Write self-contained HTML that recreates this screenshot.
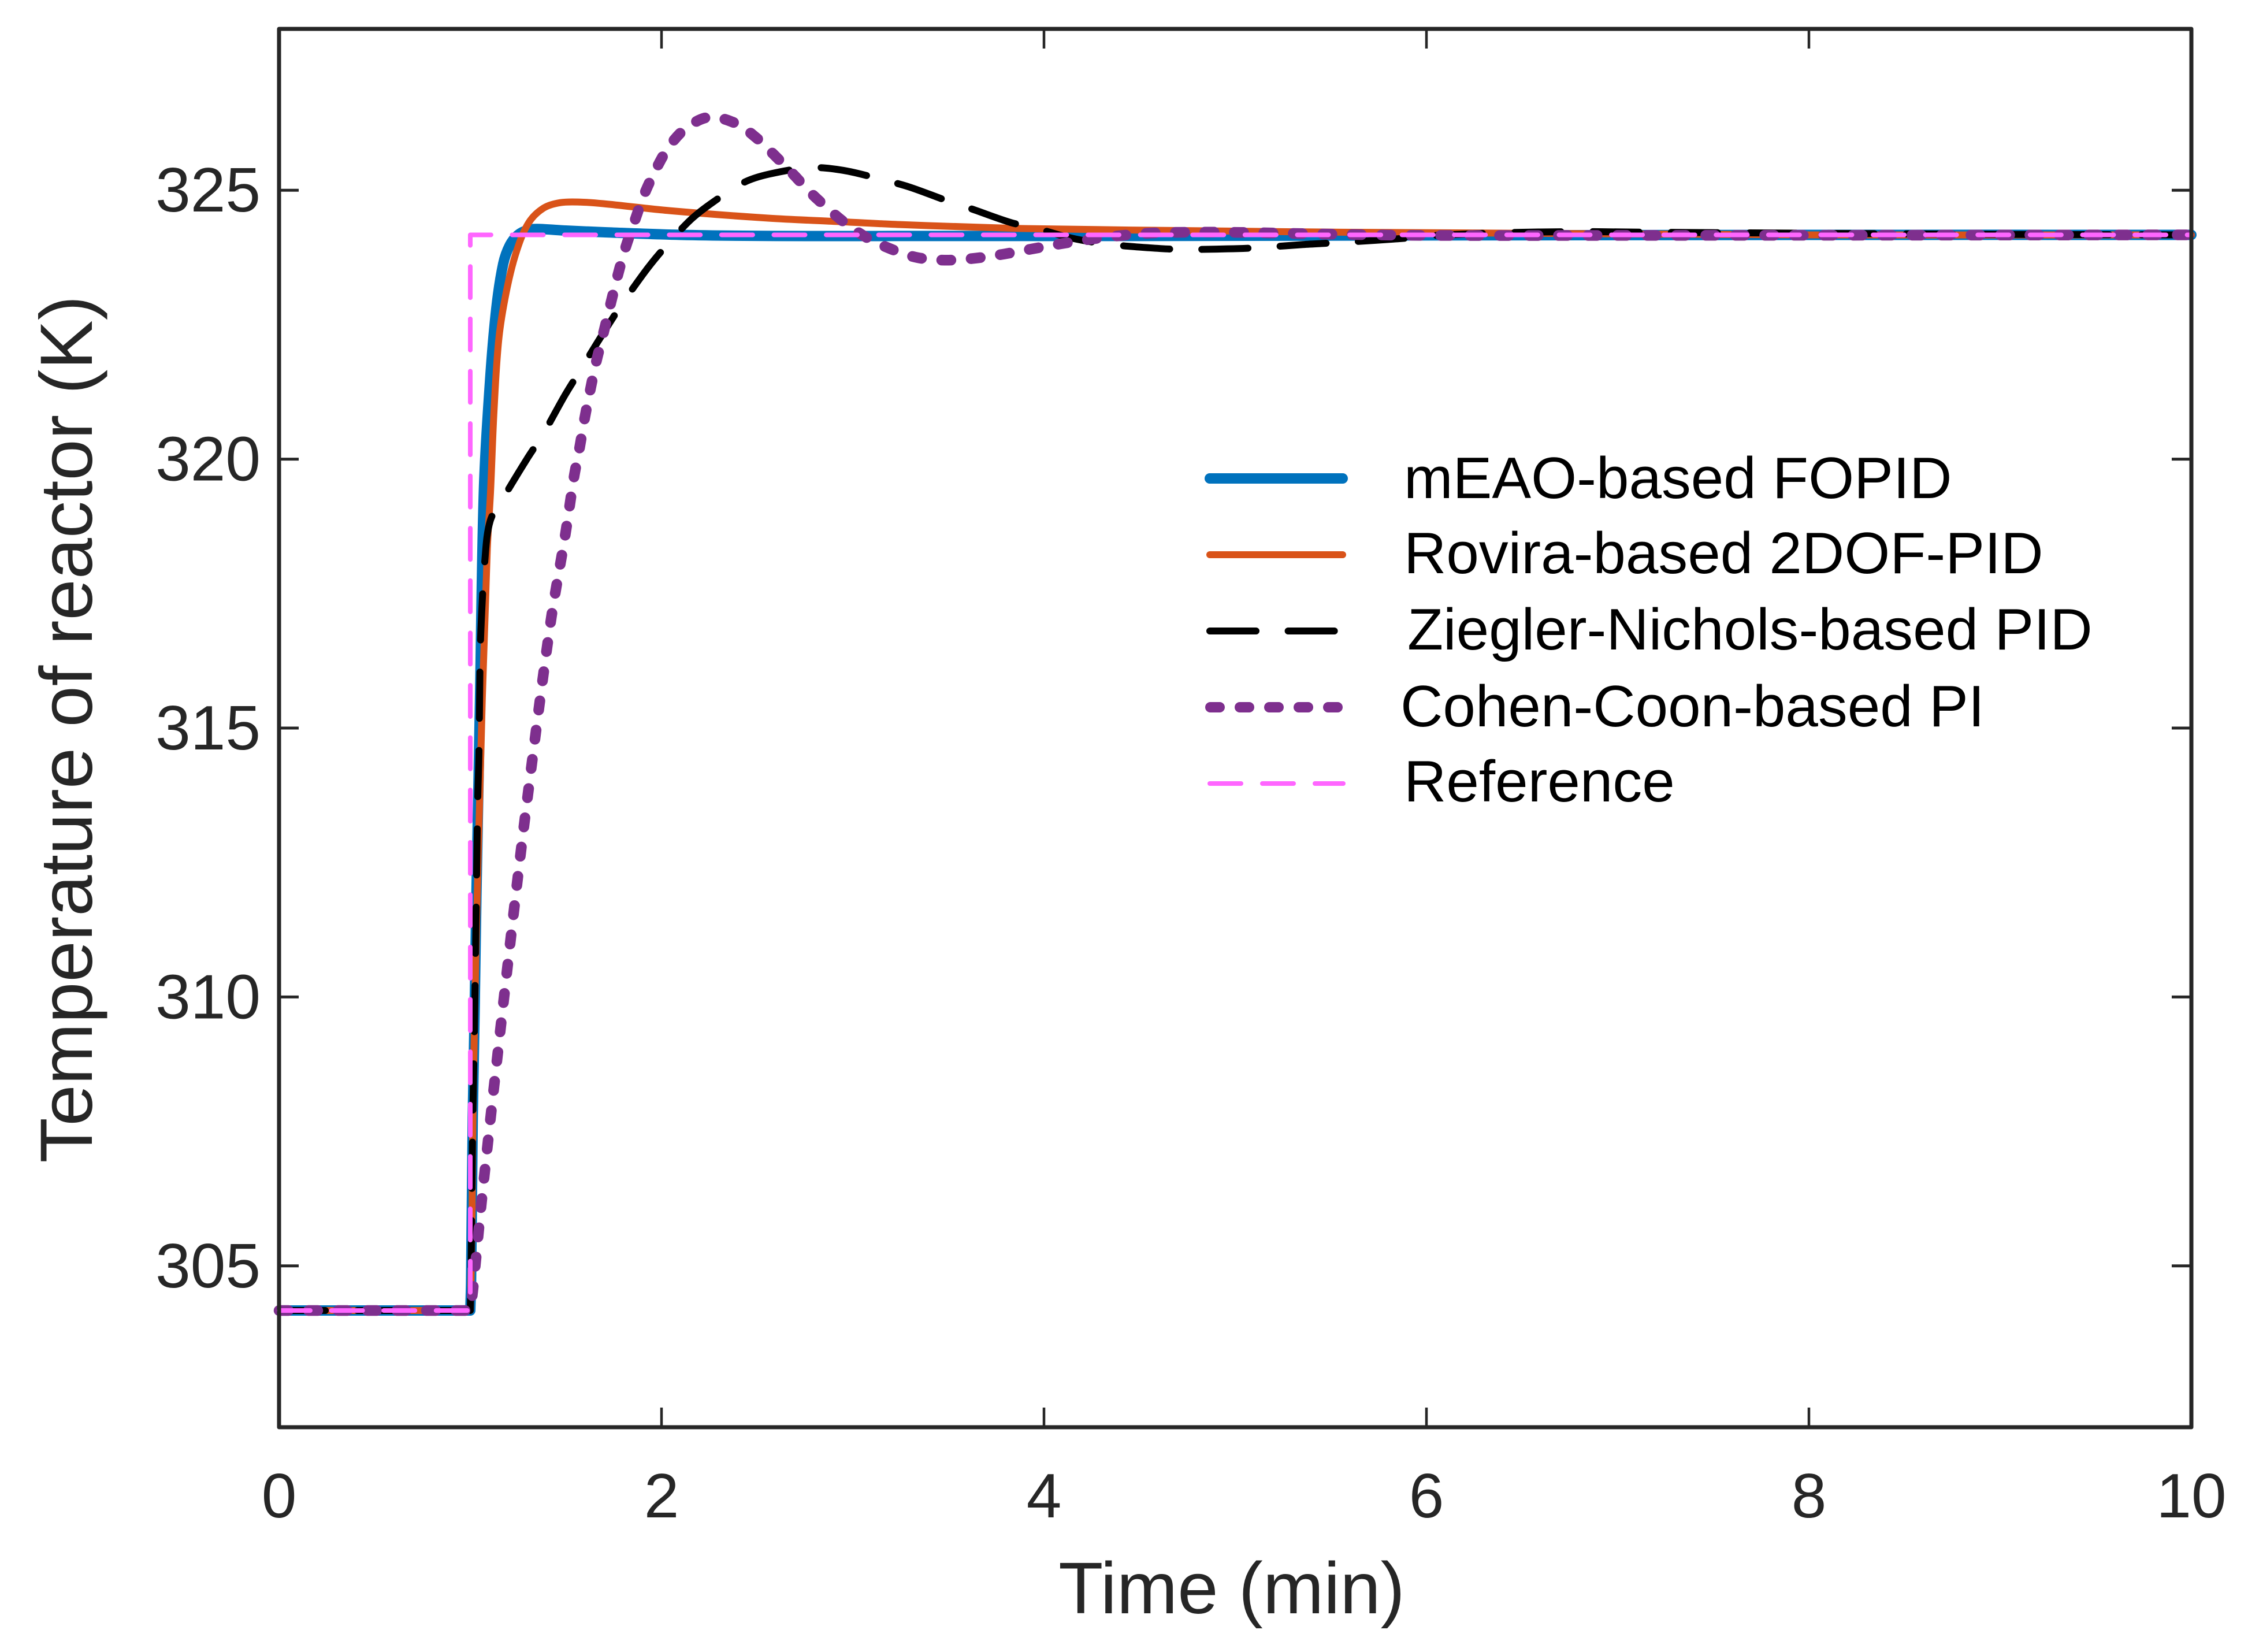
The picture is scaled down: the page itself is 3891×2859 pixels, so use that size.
<!DOCTYPE html>
<html lang="en">
<head>
<meta charset="utf-8">
<title>Temperature of reactor step response</title>
<style>
html,body{margin:0;padding:0;background:#fff;}
svg{display:block;}
text{font-family:"Liberation Sans",Arial,sans-serif;}
</style>
</head>
<body>
<svg id="chart" xmlns="http://www.w3.org/2000/svg" width="3891" height="2859" viewBox="0 0 3891 2859">
  <rect x="0" y="0" width="3891" height="2859" fill="#fff"/>
  <g id="ticks"></g>
  <g id="series"></g>
  <rect x="483" y="50" width="3310" height="2420" fill="none" stroke="#262626" stroke-width="7" stroke-linejoin="round"/>
  <g id="tick-labels" fill="#262626" font-size="109"></g>
  <text x="2132" y="2792" font-size="126.5" text-anchor="middle" fill="#262626">Time (min)</text>
  <text transform="translate(159,1262) rotate(-90)" font-size="128" text-anchor="middle" fill="#262626">Temperature of reactor (K)</text>
  <g>
    <g>
      <line x1="2094" x2="2324" y1="828" y2="828" stroke="#0072BD" stroke-width="18" stroke-linecap="round"/>
      <text x="2430" y="862" font-size="101.6" fill="#000">mEAO-based FOPID</text>
    </g>
    <g>
      <line x1="2094" x2="2324" y1="960" y2="960" stroke="#D95319" stroke-width="12" stroke-linecap="round"/>
      <text x="2430" y="992" font-size="101.6" fill="#000">Rovira-based 2DOF-PID</text>
    </g>
    <g>
      <line x1="2094" x2="2312" y1="1092" y2="1092" stroke="#000" stroke-width="12" stroke-linecap="round" stroke-dasharray="80 55.6"/>
      <text x="2436" y="1124" font-size="101.6" fill="#000">Ziegler-Nichols-based PID</text>
    </g>
    <g>
      <line x1="2095" x2="2316" y1="1224" y2="1224" stroke="#7E2F8E" stroke-width="18" stroke-linecap="round" stroke-dasharray="16 35"/>
      <text x="2424" y="1257" font-size="101.6" fill="#000">Cohen-Coon-based PI</text>
    </g>
    <g>
      <line x1="2094" x2="2325" y1="1356" y2="1356" stroke="#FF66FF" stroke-width="8" stroke-linecap="round" stroke-dasharray="54 37"/>
      <text x="2430" y="1387" font-size="101.6" fill="#000">Reference</text>
    </g>
  </g>
</svg>
<script>
var xTickValues = [0, 2, 4, 6, 8, 10];
var yTickValues = [305, 310, 315, 320, 325];

var meaoTime = [0,1,1.004,1.013,1.023,1.032,1.051,1.071,1.103,1.136,1.172,1.207,1.25,1.30,1.349,1.5,1.696,2.1,2.6,3.5,4.5,6,8,10];
var meaoTemp = [304.17,304.17,304.68,307.77,309.8,311.88,315.56,319.4,321.44,322.8,323.63,323.98,324.17,324.26,324.28,324.25,324.22,324.17,324.15,324.15,324.15,324.16,324.17,324.17];

var roviraTime = [0,1,1.004,1.01,1.013,1.021,1.033,1.063,1.089,1.106,1.124,1.15,1.193,1.245,1.306,1.384,1.471,1.575,1.696,2.043,2.563,2.91,3.257,3.87,4.45,5.55,6.5,8,10];
var roviraTemp = [304.17,304.17,304.68,306.2,307.51,309.31,311.37,315.56,318.33,319.4,320.89,322.26,323.19,323.9,324.4,324.67,324.77,324.78,324.75,324.62,324.48,324.42,324.36,324.29,324.26,324.22,324.2,324.17,324.17];

var zieglerTime = [0,1,1.004,1.012,1.021,1.033,1.039,1.045,1.05,1.053,1.063,1.074,1.104,1.181,1.301,1.38,1.495,1.575,1.67,1.774,1.904,1.996,2.143,2.254,2.428,2.563,2.78,2.95,3.152,3.296,3.489,3.624,3.826,3.961,4.144,4.327,4.549,4.718,4.959,5.113,5.354,5.508,5.739,5.93,6.05,6.4,6.8,7.13,8,9,10];
var zieglerTemp = [304.17,304.17,304.9,307.5,309.3,312.23,313.67,314.48,315.95,316.57,317.39,318.03,318.85,319.33,320.03,320.46,321.19,321.65,322.2,322.78,323.44,323.85,324.42,324.74,325.14,325.3,325.42,325.37,325.2,325.06,324.81,324.65,324.4,324.29,324.11,324.0,323.93,323.9,323.91,323.93,323.99,324.02,324.07,324.12,324.16,324.21,324.23,324.22,324.2,324.18,324.17];

var cohenTime = [0,1,1.013,1.028,1.058,1.124,1.245,1.32,1.421,1.497,1.543,1.571,1.597,1.627,1.658,1.696,1.731,1.769,1.809,1.857,1.907,1.968,2.039,2.13,2.251,2.39,2.494,2.591,2.688,2.778,2.879,2.979,3.083,3.205,3.335,3.479,3.624,3.768,3.909,4.048,4.187,4.331,4.472,4.6,4.93,5.55,6,7,10];
var cohenTemp = [304.17,304.17,304.53,305.07,306.16,308.33,312.12,314.29,316.99,318.6,319.68,320.2,320.74,321.28,321.8,322.34,322.85,323.39,323.9,324.4,324.9,325.37,325.81,326.16,326.36,326.24,325.98,325.65,325.3,324.96,324.63,324.34,324.1,323.9,323.75,323.7,323.73,323.8,323.89,323.98,324.06,324.13,324.18,324.21,324.22,324.18,324.16,324.16,324.17];

var referenceTime = [0, 1, 1, 10];
var referenceTemp = [304.17, 304.17, 324.17, 324.17];

function xScale(t) { return 483 + (t - 0) / (10 - 0) * 3310; }
function yScale(v) { return 50 + (328 - v) / (328 - 302) * 2420; }

var NS = 'http://www.w3.org/2000/svg';

function buildPath(times, temps) {
  var pts = times.map(function (t, i) { return [xScale(t), yScale(temps[i])]; });
  var d = 'M' + pts[0][0].toFixed(2) + ' ' + pts[0][1].toFixed(2);
  d += 'L' + pts[1][0].toFixed(2) + ' ' + pts[1][1].toFixed(2);
  function dist(a, b) { return Math.hypot(a[0] - b[0], a[1] - b[1]); }
  for (var i = 1; i < pts.length - 1; i++) {
    var p0 = i > 1 ? pts[i - 1] : pts[i];
    var p1 = pts[i];
    var p2 = pts[i + 1];
    var p3 = i + 2 < pts.length ? pts[i + 2] : p2;
    var seg = dist(p1, p2);
    var a = seg / Math.max(dist(p0, p1) + seg, 1e-6) / 3;
    var b = seg / Math.max(dist(p2, p3) + seg, 1e-6) / 3;
    var c1x = p1[0] + (p2[0] - p0[0]) * a;
    var c1y = p1[1] + (p2[1] - p0[1]) * a;
    var c2x = p2[0] - (p3[0] - p1[0]) * b;
    var c2y = p2[1] - (p3[1] - p1[1]) * b;
    d += 'C' + c1x.toFixed(2) + ' ' + c1y.toFixed(2) + ' ' + c2x.toFixed(2) + ' ' + c2y.toFixed(2) + ' ' + p2[0].toFixed(2) + ' ' + p2[1].toFixed(2);
  }
  return d;
}

var seriesGroup = document.getElementById('series');

function addSeries(times, temps, color, width, dash) {
  var path = document.createElementNS(NS, 'path');
  path.setAttribute('d', buildPath(times, temps));
  path.setAttribute('fill', 'none');
  path.setAttribute('stroke', color);
  path.setAttribute('stroke-width', width);
  path.setAttribute('stroke-linecap', 'round');
  path.setAttribute('stroke-linejoin', 'round');
  if (dash) { path.setAttribute('stroke-dasharray', dash); }
  seriesGroup.appendChild(path);
  return path;
}

var meaoLine = addSeries(meaoTime, meaoTemp, '#0072BD', 18, '');



var roviraLine = addSeries(roviraTime, roviraTemp, '#D95319', 12, '');



var zieglerLine = addSeries(zieglerTime, zieglerTemp, '#000000', 12, '80 55.6');



var cohenLine = addSeries(cohenTime, cohenTemp, '#7E2F8E', 18.5, '16 35');



var referenceLine = document.createElementNS(NS, 'polyline');
referenceLine.setAttribute('points', referenceTime.map(function (t, i) { return xScale(t).toFixed(2) + ',' + yScale(referenceTemp[i]).toFixed(2); }).join(' '));
referenceLine.setAttribute('fill', 'none');
referenceLine.setAttribute('stroke', '#FF66FF');
referenceLine.setAttribute('stroke-width', '8');
referenceLine.setAttribute('stroke-linecap', 'round');
referenceLine.setAttribute('stroke-linejoin', 'round');
referenceLine.setAttribute('stroke-dasharray', '54 36.6');


seriesGroup.appendChild(referenceLine);

var tickGroup = document.getElementById('ticks');
var labelGroup = document.getElementById('tick-labels');
var TICK_LEN = 34;

function addTick(x1, y1, x2, y2, width) {
  var tick = document.createElementNS(NS, 'line');
  tick.setAttribute('x1', x1);
  tick.setAttribute('y1', y1);
  tick.setAttribute('x2', x2);
  tick.setAttribute('y2', y2);
  tick.setAttribute('stroke', '#262626');
  tick.setAttribute('stroke-width', width);
  
  
  tickGroup.appendChild(tick);
}

xTickValues.forEach(function (value) {
  var x = xScale(value);
  addTick(x, 2470, x, 2470 - TICK_LEN, 4.5);
  addTick(x, 50, x, 50 + TICK_LEN, 4.5);
  var label = document.createElementNS(NS, 'text');
  label.setAttribute('x', x);
  label.setAttribute('y', 2626);
  label.setAttribute('text-anchor', 'middle');
  
  
  label.textContent = String(value);
  labelGroup.appendChild(label);
});

yTickValues.forEach(function (value) {
  var y = yScale(value);
  addTick(483, y, 483 + TICK_LEN, y, 5);
  addTick(3793, y, 3793 - TICK_LEN, y, 5);
  var label = document.createElementNS(NS, 'text');
  label.setAttribute('x', 451);
  label.setAttribute('y', y + 37);
  label.setAttribute('text-anchor', 'end');
  
  
  label.textContent = String(value);
  labelGroup.appendChild(label);
});
</script>
</body>
</html>
